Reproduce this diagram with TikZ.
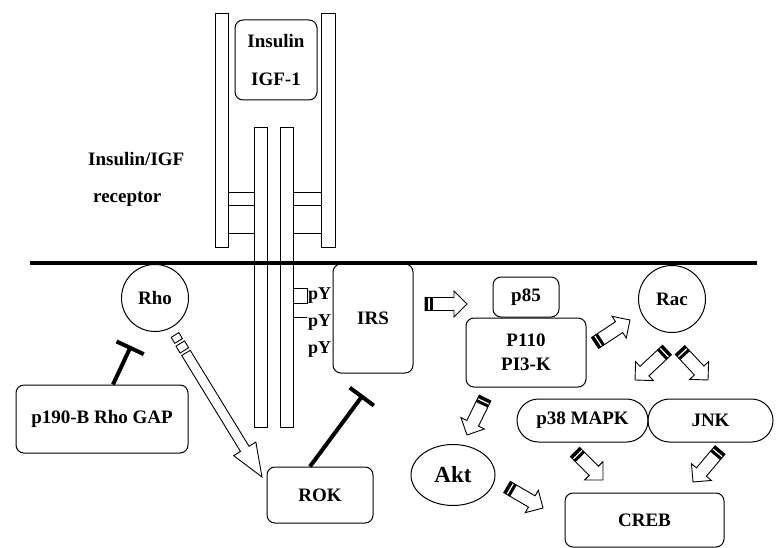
\documentclass[tikz,border=0pt]{standalone}
\usepackage{fontspec}
\setmainfont{Liberation Serif}
\usetikzlibrary{arrows.meta,calc,shapes.geometric}
\tikzset{
  box/.style={draw, line width=1pt, rounded corners=8pt, align=center, inner sep=0pt,
    font=\bfseries\fontsize{19}{22}\selectfont},
  ball/.style={box, circle, minimum size=67pt},
  pill/.style={box, rounded corners=21.5pt},
  label/.style={align=left, inner sep=0pt, font=\bfseries\fontsize{19}{22}\selectfont},
  inhibit/.style={line width=4pt, -{Bar[width=30pt]}},
}
% open block arrow, tail to tip
\newcommand{\fatarrow}[2]{%
  \path let \p1=(#1), \p2=(#2) in
    \pgfextra{\pgfmathsetmacro\faang{atan2(\y2-\y1,\x2-\x1)}%
      \pgfmathsetmacro\falen{veclen(\x2-\x1,\y2-\y1)}%
      \global\let\faang\faang \global\let\falen\falen};
  \begin{scope}[shift={(#1)}, rotate=\faang]
    \draw[line width=0.9pt, fill=white] (0,-6.5) -- (\falen-13,-6.5) -- (\falen-13,-13)
      -- (\falen,0) -- (\falen-13,13) -- (\falen-13,6.5) -- (0,6.5) -- cycle;
    \fill (0,-6.5) rectangle (3,6.5);
    \fill (4.5,-6.5) rectangle (7.5,6.5);
  \end{scope}}
% long block arrow with a broken tail
\newcommand{\longarrow}[2]{%
  \path let \p1=(#1), \p2=(#2) in
    \pgfextra{\pgfmathsetmacro\faang{atan2(\y2-\y1,\x2-\x1)}%
      \pgfmathsetmacro\falen{veclen(\x2-\x1,\y2-\y1)}%
      \global\let\faang\faang \global\let\falen\falen};
  \begin{scope}[shift={(#1)}, rotate=\faang, line width=0.9pt]
    \draw (0,-4.5) rectangle (7,4.5);
    \draw (10,-5) rectangle (18,5);
    \draw[fill=white] (21,-5) -- (\falen-33,-5) -- (\falen-33,-13)
      -- (\falen,0) -- (\falen-33,13) -- (\falen-33,5) -- (21,5) -- cycle;
  \end{scope}}

\begin{document}
\begin{tikzpicture}[x=1pt,y=-1pt]
\useasboundingbox (0,0) rectangle (776,548);
% receptor
\draw[line width=0.9pt] (215,13) rectangle (228,247);
\draw[line width=0.9pt] (321,13) rectangle (335,247);
\draw[line width=0.9pt] (254,127) rectangle (267,427);
\draw[line width=0.9pt] (280,127) rectangle (293,427);
\foreach \yy in {192,205,233} {
  \draw[line width=0.9pt] (228,\yy) -- (254,\yy);
  \draw[line width=0.9pt] (293,\yy) -- (321,\yy);
}
\draw[line width=0.9pt] (293,288) -- (307,288) -- (307,303) -- (293,303);
\draw[line width=0.9pt] (293,317) -- (307,317);
\node[box, minimum width=82pt, minimum height=80pt] (ligand) at (276,60) {Insulin\\[16pt]IGF-1};
\node[label, anchor=west] (receptor) at (88,179) {Insulin/IGF\\[15pt]\hspace{5pt}receptor};
% membrane
\draw[line width=3.5pt] (30,263) -- (757,263);
% molecules
\node[label, anchor=west, font=\bfseries\fontsize{18}{21}\selectfont] (py1) at (308,296) {pY};
\node[label, anchor=west, font=\bfseries\fontsize{18}{21}\selectfont] (py2) at (308,323) {pY};
\node[label, anchor=west, font=\bfseries\fontsize{18}{21}\selectfont] (py3) at (308,350) {pY};
\node[box, minimum width=80pt, minimum height=109pt] (irs) at (373,318.5) {IRS};
\node[box, minimum width=66pt, minimum height=40pt] (p85) at (526,297) {p85};
\node[box, minimum width=120pt, minimum height=69pt] (pik) at (526,352.5) {P110\\[2pt]PI3-K};
\node[ball] (rac) at (672,299) {Rac};
\node[ball] (rho) at (155,298) {Rho};
\node[box, minimum width=172pt, minimum height=68pt] (gap) at (102,419) {p190-B Rho GAP};
\node[box, minimum width=106pt, minimum height=56pt] (rok) at (320,495) {ROK};
\node[box, ellipse, minimum width=84pt, minimum height=61pt,
  font=\bfseries\fontsize{23}{26}\selectfont] (akt) at (453,475) {Akt};
\node[pill, minimum width=131pt, minimum height=43pt] (p38) at (582.5,420.5) {p38 MAPK};
\node[pill, minimum width=125pt, minimum height=43pt] (jnk) at (710.5,420.5) {JNK};
\node[box, minimum width=159pt, minimum height=54pt] (creb) at (644.5,520) {CREB};
% inhibition
\coordinate (irs-bar) at (363,395);
\coordinate (rho-bar) at (131,346);
\draw[inhibit] ([xshift=-10pt]rok.north) -- (irs-bar);
\draw[inhibit] ([xshift=11pt]gap.north) -- (rho-bar);
% activation
\coordinate (irs-out) at (425,304);  \coordinate (p85-in) at (467,304);
\coordinate (pik-out) at (595,343);  \coordinate (rac-in) at (630,320);
\coordinate (rac-out1) at (667,350); \coordinate (p38-in) at (635,380);
\coordinate (rac-out2) at (680,350); \coordinate (jnk-in) at (708,380);
\coordinate (pik-out2) at (485,398); \coordinate (akt-in) at (467,435);
\coordinate (akt-out) at (507,487);  \coordinate (creb-in1) at (543,508);
\coordinate (p38-out) at (575,452);  \coordinate (creb-in2) at (603,480);
\coordinate (jnk-out) at (720,450);  \coordinate (creb-in3) at (693,482);
\coordinate (rho-out) at (175,335);  \coordinate (rok-in) at (262,477);
\fatarrow{irs-out}{p85-in}
\fatarrow{pik-out}{rac-in}
\fatarrow{rac-out1}{p38-in}
\fatarrow{rac-out2}{jnk-in}
\fatarrow{pik-out2}{akt-in}
\fatarrow{akt-out}{creb-in1}
\fatarrow{p38-out}{creb-in2}
\fatarrow{jnk-out}{creb-in3}
\longarrow{rho-out}{rok-in}
\end{tikzpicture}
\end{document}
